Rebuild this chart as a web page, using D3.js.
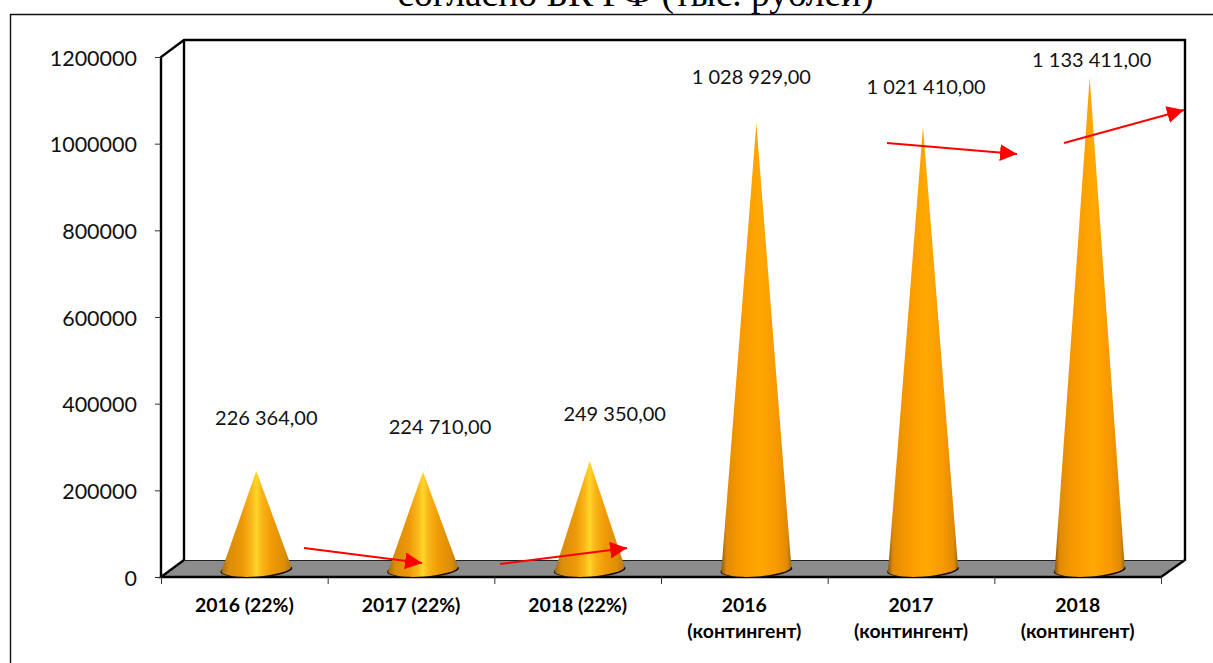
<!DOCTYPE html>
<html><head><meta charset="utf-8">
<script src="https://cdn.jsdelivr.net/npm/d3@7"></script>
<style>html,body{margin:0;padding:0;background:#fff;overflow:hidden}svg{display:block}</style>
</head><body><div id="chart"></div>
<script>
const titleText = "согласно БК РФ (тыс. рублей)";
const categories = [["2016 (22%)"],["2017 (22%)"],["2018 (22%)"],["2016","(контингент)"],["2017","(контингент)"],["2018","(контингент)"]];
const values = [226364,224710,249350,1028929,1021410,1133411];
const valueLabels = ["226 364,00","224 710,00","249 350,00","1 028 929,00","1 021 410,00","1 133 411,00"];
const yTicks = [0,200000,400000,600000,800000,1000000,1200000];
// trend arrows: [category position from, value from, category position to, value to]
const arrows = [[0.858,66900,1.566,32300],[2.034,30000,2.796,66900],[4.356,1001500,5.136,976000],[5.418,1001500,6.138,1077700]];

const W=1213,H=663, x0=161,x1=1161,y0=577,yTop=57,dx=23,dy=17;
const svg=d3.select("#chart").append("svg").attr("width",W).attr("height",H);
const y=d3.scaleLinear().domain([0,1200000]).range([y0,yTop]);
const band=d3.scaleBand().domain(d3.range(categories.length)).range([x0,x1]);
const pos=d3.scaleLinear().domain([0,categories.length]).range([x0,x1]);
const defs=svg.append("defs");
function grad(id,stops){const g=defs.append("linearGradient").attr("id",id);
  stops.forEach(s=>g.append("stop").attr("offset",s[0]).attr("stop-color",s[1]));}
grad("coneLow",[[0,"#a06c10"],[0.1,"#d98c0c"],[0.3,"#ee9808"],[0.43,"#fab81a"],[0.5,"#ffd62a"],[0.57,"#fab81a"],[0.72,"#f09a04"],[0.9,"#dd8d08"],[1,"#b07a18"]]);
grad("coneHigh",[[0,"#8a5a08"],[0.07,"#e08a06"],[0.25,"#f79800"],[0.55,"#ffa802"],[0.8,"#f79800"],[0.94,"#e08a06"],[1,"#9a6a10"]]);
defs.append("marker").attr("id","ah").attr("viewBox","0 0 17 17").attr("refX",17).attr("refY",8.5)
  .attr("markerWidth",17).attr("markerHeight",17).attr("markerUnits","userSpaceOnUse").attr("orient","auto")
  .append("path").attr("d","M0,0L17,8.5L0,17Z").attr("fill","#ff0000");

// title and outer frame
svg.append("text").attr("x",635.5).attr("y",6).attr("text-anchor","middle")
  .attr("font-family","'Liberation Serif'").attr("font-size",37.5).attr("fill","#000").text(titleText);
svg.append("path").attr("d",`M10.5,${H}V14.5H${W}`).attr("fill","none").attr("stroke","#111").attr("stroke-width",1.4);

// floor and walls
svg.append("polygon").attr("fill","#8c8c8c")
  .attr("points",[[x0,y0],[x0+dx,y0-dy],[x1+dx+1,y0-dy],[x1,y0]].join(" "));
const bk="#000";
svg.append("path").attr("fill","none").attr("stroke",bk).attr("stroke-width",2.4).attr("stroke-linejoin","miter")
  .attr("d",`M${x0},${y0}V${yTop}L${x0+dx},${yTop-dy}H${x1+dx+1}V${y0-dy}L${x1},${y0}H${x0}L${x0+dx},${y0-dy}`);
svg.append("path").attr("fill","none").attr("stroke",bk).attr("stroke-width",2.4)
  .attr("d",`M${x0+dx},${yTop-dy}V${y0-dy}`);
svg.append("path").attr("fill","none").attr("stroke","#222").attr("stroke-width",1)
  .attr("d",`M${x0+dx},${y0-dy+0.5}H${x1+dx+1}`);

// axes
const ax=svg.append("g").attr("transform",`translate(${x0},0)`)
  .call(d3.axisLeft(y).tickValues(yTicks).tickFormat(d3.format("d")).tickSize(6).tickPadding(18));
ax.select(".domain").remove();
ax.selectAll("line").attr("stroke","#333").attr("stroke-width",1);
ax.selectAll("text").attr("font-family","Lato").attr("font-size",21.5).attr("fill","#111").attr("dy","0.38em");
const bx=svg.append("g").attr("transform",`translate(0,${y0})`)
  .call(d3.axisBottom(pos).ticks(categories.length).tickFormat("").tickSize(7));
bx.select(".domain").remove();
bx.selectAll("line").attr("stroke","#333").attr("stroke-width",1);
const cx=svg.append("g").attr("transform",`translate(0,${y0})`)
  .call(d3.axisBottom(band).tickSize(0).tickFormat(""));
cx.select(".domain").remove();
cx.selectAll(".tick text").remove();
cx.selectAll(".tick").append("text").attr("text-anchor","middle").attr("font-weight",700)
  .attr("fill","#000").attr("font-family","Lato").attr("font-size",19.4)
  .each(function(d){d3.select(this).selectAll("tspan").data(categories[d]).join("tspan")
     .attr("x",0).attr("y",(t,i)=>35+i*26).text(t=>t);});

// cones
const r=36, baseOff=8, coneDx=12, tilt=2.4;
const tipOff=-8;
const coneX=i=>band(i)+band.bandwidth()/2+coneDx;
const g=svg.append("g");
values.forEach((v,i)=>{
  const c=coneX(i), by=y0-baseOff, tip=y(v)+tipOff;
  g.append("ellipse").attr("cx",c).attr("cy",by+1).attr("rx",r).attr("ry",7.5)
    .attr("transform",`rotate(-3,${c},${by})`).attr("fill","#1a0d00");
  g.append("path").attr("fill",`url(#${i<3?"coneLow":"coneHigh"})`)
    .attr("d",`M${c-r+1},${by+tilt}L${c},${tip}L${c+r-1},${by-tilt}A${r-1},7.5,-4,0,1,${c-r+1},${by+tilt}Z`);
});

// value labels, offset from cone tips
const lblDx=[10,17,25,-5,3,2], lblDy=[-53,-44,-47,-46,-39,-17];
svg.append("g").selectAll("text").data(values).join("text")
  .attr("x",(v,i)=>coneX(i)+lblDx[i]).attr("y",(v,i)=>y(v)+tipOff+lblDy[i])
  .attr("dy","0.33em").attr("text-anchor","middle").attr("font-family","Lato").attr("font-size",20).attr("fill","#111")
  .text((v,i)=>valueLabels[i]);

// arrows
svg.append("g").selectAll("line").data(arrows).join("line")
  .attr("x1",a=>pos(a[0])).attr("y1",a=>y(a[1])).attr("x2",a=>pos(a[2])).attr("y2",a=>y(a[3]))
  .attr("stroke","#ff0000").attr("stroke-width",2).attr("marker-end","url(#ah)");
</script></body></html>
